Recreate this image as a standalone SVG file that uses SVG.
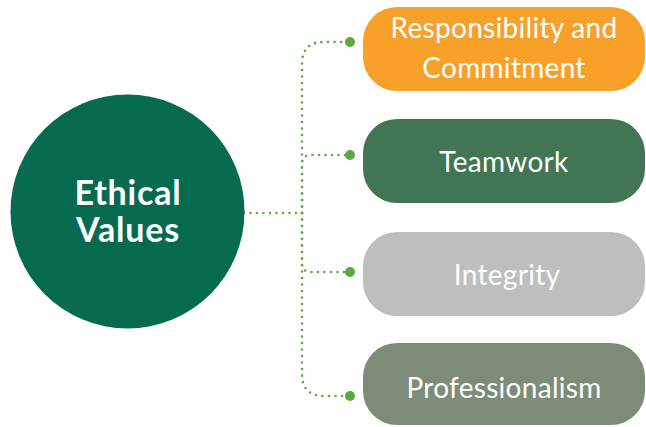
<svg xmlns="http://www.w3.org/2000/svg" width="646" height="427" viewBox="0 0 646 427">
<style>
.lbl{font-family:Lato,"Open Sans","Liberation Sans",sans-serif;font-size:28px;letter-spacing:0.3px;fill:#ffffff;text-anchor:middle}
.hub{font-family:Lato,"Open Sans","Liberation Sans",sans-serif;font-size:34px;letter-spacing:0.8px;font-weight:bold;fill:#ffffff;text-anchor:middle}
.dot{fill:none;stroke:#5ea83e;stroke-width:2.6;stroke-linecap:round;stroke-dasharray:0 6.5}
.end{fill:#5ea83e}
</style>
<rect width="646" height="427" fill="#ffffff"/>
<g id="connectors">
<path class="dot" d="M244,213 H302"/>
<path class="dot" d="M302,213 V64 Q302,42 324,42 H345"/>
<path class="dot" d="M302,213 V164 Q302,155 311,155 H345"/>
<path class="dot" d="M302,213 V263 Q302,272 311,272 H345"/>
<path class="dot" d="M302,213 V374 Q302,396 324,396 H345"/>
<circle class="end" cx="350" cy="42" r="5"/>
<circle class="end" cx="350" cy="155" r="5"/>
<circle class="end" cx="350" cy="272" r="5"/>
<circle class="end" cx="350" cy="396" r="5"/>
</g>
<g id="hub">
<circle cx="127.5" cy="211.5" r="117" fill="#066a4f"/>
<text class="hub" x="128" y="205">Ethical</text>
<text class="hub" x="128" y="242">Values</text>
</g>
<g id="responsibility">
<rect x="363" y="7" width="282" height="84" rx="34" fill="#f7a12b"/>
<text class="lbl" x="504" y="38">Responsibility and</text>
<text class="lbl" x="504" y="78">Commitment</text>
</g>
<g id="teamwork">
<rect x="363" y="119" width="282" height="84" rx="34" fill="#417554"/>
<text class="lbl" x="504" y="172">Teamwork</text>
</g>
<g id="integrity">
<rect x="363" y="232" width="282" height="84" rx="34" fill="#bdbec0"/>
<text class="lbl" x="507" y="285">Integrity</text>
</g>
<g id="professionalism">
<rect x="363" y="343" width="282" height="82" rx="34" fill="#7d8c78"/>
<text class="lbl" x="504" y="398">Professionalism</text>
</g>
</svg>
